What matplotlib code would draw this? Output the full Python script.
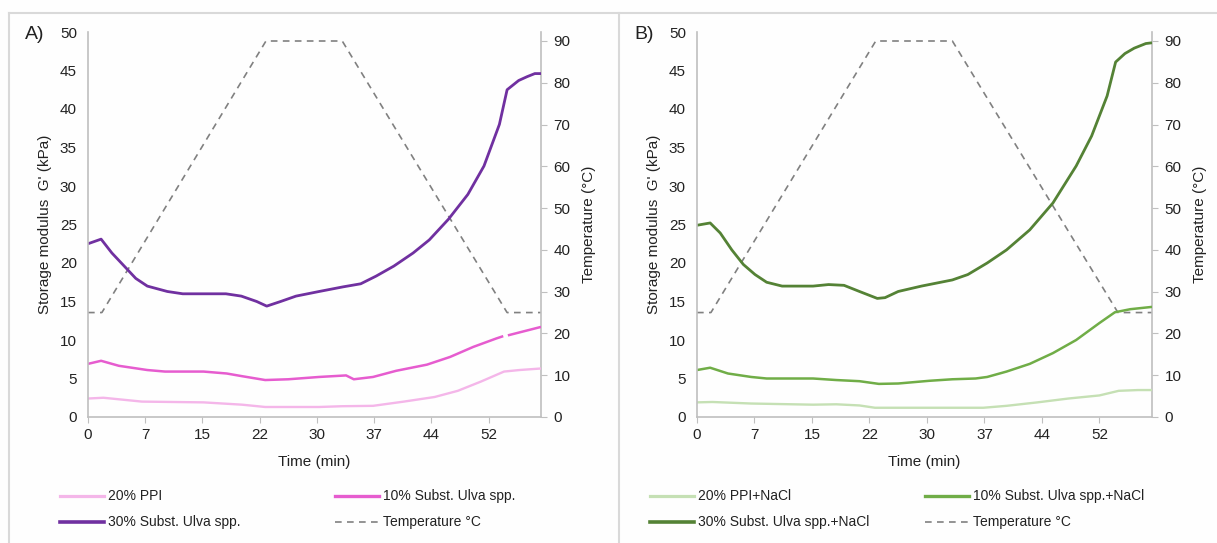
import numpy as np
import matplotlib
matplotlib.use("Agg")
import matplotlib.pyplot as plt
from matplotlib.lines import Line2D

plt.rcParams['font.family'] = ['Liberation Sans', 'DejaVu Sans']

# ---------------- data ----------------
tick_pos = [0, 52/7, 2*52/7, 3*52/7, 4*52/7, 5*52/7, 6*52/7, 52]
tick_labels = ["0", "7", "15", "22", "30", "37", "44", "52"]
x_max = 58.8

temp_t = [0, 1.8, 23.1, 33.0, 54.4, 58.8]
temp_v = [25, 25, 90, 90, 25, 25]

# Panel A
tA20 = [0, 2, 7, 15, 20, 23, 30, 33, 37, 41, 45, 48, 51, 54, 56, 58.8]
gA20 = [2.4, 2.5, 2.0, 1.9, 1.6, 1.3, 1.3, 1.4, 1.45, 2.0, 2.6, 3.4, 4.6, 5.9, 6.1, 6.3]

tA10 = [0, 1.7, 4, 7.7, 10, 15, 18, 20, 23, 26, 30, 33.5, 34.5, 37, 40, 44, 47, 50, 53, 53.9, 54.2, 54.5, 58.8]
gA10 = [6.9, 7.3, 6.65, 6.1, 5.9, 5.9, 5.65, 5.3, 4.8, 4.9, 5.2, 5.4, 4.9, 5.2, 6.0, 6.8, 7.8, 9.1, 10.2, 10.5, np.nan, 10.6, 11.7]

tA30 = [0, 1.7, 3.1, 4.7, 6.2, 7.7, 10.3, 12.3, 17.9, 19.9, 21.9, 23.2, 25, 27, 30, 33.1, 35.4, 37.4,
        39.7, 42.2, 44.3, 46.8, 49.3, 51.4, 53.4, 54.4, 55.9, 57, 58, 58.8]
gA30 = [22.5, 23.1, 21.3, 19.6, 18.0, 17.0, 16.3, 16.0, 16.0, 15.7, 15.0, 14.4, 15.0, 15.7, 16.3, 16.9, 17.3, 18.3,
        19.6, 21.3, 23.0, 25.7, 28.9, 32.6, 38.0, 42.5, 43.7, 44.2, 44.6, 44.6]

# Panel B
tB20 = [0, 2, 7, 15, 18, 21, 23, 30, 37, 40, 44, 48, 52, 54.5, 57, 58.8]
gB20 = [1.9, 1.95, 1.75, 1.6, 1.65, 1.5, 1.2, 1.2, 1.2, 1.45, 1.9, 2.4, 2.8, 3.4, 3.5, 3.5]

tB10 = [0, 1.7, 4, 7, 9, 15, 18, 21, 23.5, 26, 30, 33, 36, 37.5, 40, 43, 46, 49, 52, 54, 56, 58.8]
gB10 = [6.1, 6.4, 5.65, 5.2, 5.0, 5.0, 4.8, 4.65, 4.3, 4.35, 4.7, 4.9, 5.0, 5.2, 5.9, 6.9, 8.3, 10.0, 12.2, 13.6, 14.0, 14.3]

tB30 = [0, 1.7, 3, 4.5, 6, 7.5, 9, 11, 15, 17, 19, 21, 23.3, 24.3, 26, 29, 33, 35, 37.5, 40, 43, 46,
        49, 51, 53, 54.1, 55.3, 56.5, 58, 58.8]
gB30 = [24.9, 25.2, 23.9, 21.7, 19.8, 18.5, 17.5, 17.0, 17.0, 17.2, 17.1, 16.3, 15.4, 15.5, 16.3, 17.0, 17.8, 18.5,
        20.0, 21.7, 24.3, 27.8, 32.6, 36.5, 41.7, 46.1, 47.2, 47.9, 48.5, 48.6]

labels_A = ["20% PPI", "10% Subst. Ulva spp.", "30% Subst. Ulva spp.", "Temperature °C"]
labels_B = ["20% PPI+NaCl", "10% Subst. Ulva spp.+NaCl", "30% Subst. Ulva spp.+NaCl", "Temperature °C"]
colors_A = ["#f4b6e9", "#e65ccf", "#7030a0"]
colors_B = ["#c5e0b4", "#70ad47", "#548235"]
widths = [1.7, 1.8, 2.0]
temp_color = "#808080"
spine_color = "#bfbfbf"

W, H = 1217, 543
fig = plt.figure(figsize=(W/100, H/100), dpi=100, facecolor="#fefefe")

def fx(px): return px / W
def fy(py): return 1 - py / H

# panel borders
border = "#d9d9d9"
fig.add_artist(Line2D([fx(9), fx(1217)], [fy(13), fy(13)], color=border, lw=1.5))
fig.add_artist(Line2D([fx(9), fx(9)], [fy(13), fy(543)], color=border, lw=1.5))
fig.add_artist(Line2D([fx(619), fx(619)], [fy(13), fy(543)], color=border, lw=1.5))

def panel(x0, x1, tag, series, colors, labels, leg_x):
    ax = fig.add_axes([fx(x0), fy(417), fx(x1) - fx(x0), fy(32) - fy(417)])
    ax.set_facecolor("none")
    for (t, g), c, lw in zip(series, colors, widths):
        ax.plot(t, g, color=c, lw=lw, solid_capstyle='butt', solid_joinstyle='round')
    ax.set_xlim(0, x_max)
    ax.set_ylim(0, 50)
    ax.set_yticks(range(0, 51, 5))
    ax.set_xticks(tick_pos)
    ax.set_xticklabels(tick_labels)
    for s in ["top", "right"]:
        ax.spines[s].set_visible(False)
    for s in ["left", "bottom"]:
        ax.spines[s].set_color(spine_color)
        ax.spines[s].set_linewidth(1.2)
    ax.tick_params(axis='y', length=0, labelsize=11, pad=8, colors="#222222")
    ax.tick_params(axis='x', length=4, color=spine_color, labelsize=11, pad=4, labelcolor="#222222")
    ax.set_ylabel("Storage modulus  G' (kPa)", fontsize=11, labelpad=6, color="#222222")
    ax.set_xlabel("Time (min)", fontsize=11, labelpad=9, color="#222222")

    ax2 = ax.twinx()
    ax2.plot(temp_t, temp_v, color=temp_color, lw=1.2, dashes=(4, 3.2))
    ax2.set_ylim(0, 90 * 385 / 376)
    ax2.set_yticks(range(0, 91, 10))
    for s in ["top", "left", "bottom"]:
        ax2.spines[s].set_visible(False)
    ax2.spines["right"].set_color(spine_color)
    ax2.spines["right"].set_linewidth(1.2)
    ax2.tick_params(axis='y', length=4, color=spine_color, labelsize=11, pad=5, labelcolor="#222222")
    ax2.set_ylabel("Temperature (°C)", fontsize=11, labelpad=8, color="#222222")
    ax.set_zorder(ax2.get_zorder() + 1)

    fig.text(fx(x0 - 63), fy(34), tag, fontsize=14, ha="left", va="center", color="#222222")

    # legend
    rows = [fy(496), fy(522)]
    cols = [leg_x, leg_x + 275]
    pos = [(cols[0], rows[0]), (cols[1], rows[0]), (cols[0], rows[1]), (cols[1], rows[1])]
    for i, (lab, (px, py)) in enumerate(zip(labels, pos)):
        if i < 3:
            fig.add_artist(Line2D([fx(px), fx(px + 44)], [py, py], color=colors[i], lw=widths[i] + 0.6))
        else:
            fig.add_artist(Line2D([fx(px), fx(px + 44)], [py, py], color=temp_color, lw=1.2, dashes=(4, 3.2)))
        fig.text(fx(px + 48), py, lab, fontsize=10, ha="left", va="center", color="#222222")

panel(88, 541, "A)", [(tA20, gA20), (tA10, gA10), (tA30, gA30)], colors_A, labels_A, 60)
panel(697, 1152, "B)", [(tB20, gB20), (tB10, gB10), (tB30, gB30)], colors_B, labels_B, 650)

fig.savefig("out.png", dpi=100, facecolor=fig.get_facecolor())
